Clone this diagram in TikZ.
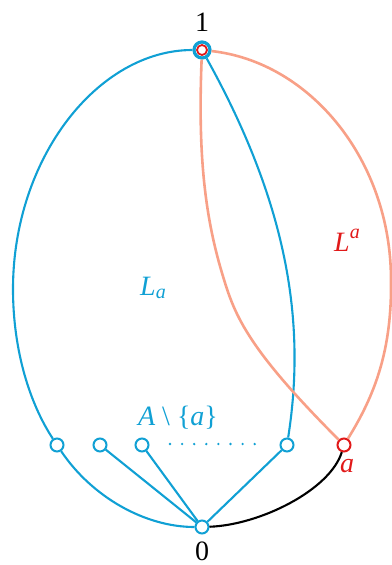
\documentclass[tikz,border=0pt]{standalone}
\usepackage{fontspec}
\setmainfont{Liberation Serif}
\usetikzlibrary{calc}

\definecolor{lblue}{RGB}{16,160,212}
\definecolor{salmon}{RGB}{248,160,135}
\definecolor{dred}{RGB}{225,25,25}

\begin{document}
\begin{tikzpicture}[x=1pt, y=-1pt,
    vtx/.style={circle, draw=lblue, line width=2pt, fill=white, inner sep=0pt, minimum size=13pt},
    lbl/.style={font=\fontsize{28}{32}\selectfont, inner sep=0pt},
    edge/.style={line width=2.1pt}]
  \useasboundingbox (0,0) rectangle (391,565);

  % Vertices
  \node[vtx, line width=3.2pt, minimum size=16pt] (V1) at (202,50) {};
  \draw[dred, line width=1.8pt] (V1.center) circle (5);
  \node[vtx] (V0) at (202,527) {};
  \node[vtx] (L1) at (57,445) {};
  \node[vtx] (L2) at (100,445) {};
  \node[vtx] (L3) at (142,445) {};
  \node[vtx] (R) at (287,445) {};
  \node[vtx, draw=dred] (A) at (344,445) {};

  % Blue curves (L_a)
  \coordinate (W) at (13,289);
  \draw[edge, lblue] (V1) .. controls (98,50) and (13,158) .. (W)
        .. controls (13,351) and (30,404) .. (L1);
  \draw[edge, lblue] (L1) .. controls (92,497) and (145,527) .. (V0);
  \draw[edge, lblue] (V1) .. controls (292,212) and (305,330) .. (R);
  \draw[edge, lblue] (L2) -- (V0);
  \draw[edge, lblue] (L3) -- (V0);
  \draw[edge, lblue] (R) -- (V0);

  % Salmon curves (L^a)
  \coordinate (M) at (222,273);
  \draw[edge, salmon, line width=2.6pt] (V1) .. controls (198,150) and (204,213) .. (M)
        .. controls (234,313) and (244,345) .. (A);
  \coordinate (E) at (391,280);
  \draw[edge, salmon, line width=2.6pt] (V1) .. controls (310,62) and (391,160) .. (E)
        .. controls (392,350) and (375,395) .. (A);

  % Black curve from a to 0
  \draw[edge, black] (A) .. controls (330,490) and (260,525) .. (V0);

  % Dots
  \foreach \i in {0,...,7}
    \fill[lblue] (170+12.1*\i,444) circle (1.3);

  % Labels
  \node[lbl] (T1) at (202,22) {1};
  \node[lbl] (T0) at (202,551) {0};
  \node[lbl, dred] (TA) at (347,466) {\itshape a};
  \node[lbl, lblue] (TLa) at (153,288) {{\itshape L}\raisebox{-0.3ex}{\fontsize{20}{20}\selectfont\itshape a}};
  \node[lbl, dred] (TLA) at (347,240) {{\itshape L}\raisebox{1.0ex}{\fontsize{20}{20}\selectfont\itshape a}};
  \node[lbl, lblue] (TS) at (178,418) {{\itshape A} \textbackslash\ \{{\itshape a}\}};
\end{tikzpicture}
\end{document}
